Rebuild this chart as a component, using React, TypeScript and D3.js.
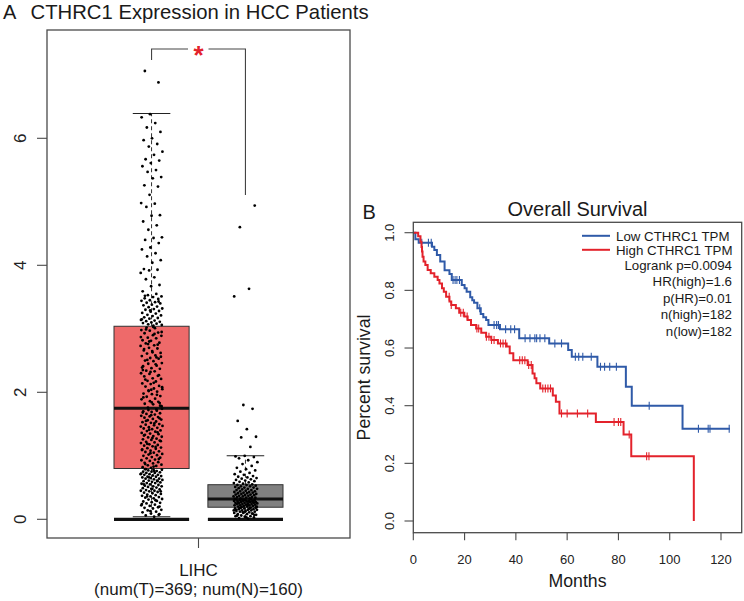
import React from "react";
import * as d3 from "d3";

// ---------- Panel A data ----------
const groups = ["Tumor", "Normal"];
const boxFills = ["#EE6A6A", "#808080"];
const boxQ1 = [0.8, 0.19];
const boxMedian = [1.75, 0.32];
const boxQ3 = [3.04, 0.545];
const whiskerLow = [0.04, 0.01];
const whiskerHigh = [6.39, 1.0];
const yTicksA = [0, 2, 4, 6];

const tumorExpr = [
  0.04, 0.06, 0.08, 0.09, 0.11, 0.12, 0.14, 0.15, 0.17, 0.18, 0.19, 0.21, 0.22, 0.23, 0.25, 0.26, 0.27, 0.28, 0.29, 0.31,
  0.32, 0.33, 0.34, 0.35, 0.36, 0.37, 0.38, 0.39, 0.4, 0.41, 0.42, 0.43, 0.44, 0.45, 0.45, 0.46, 0.47, 0.48, 0.49, 0.5,
  0.51, 0.52, 0.52, 0.53, 0.54, 0.55, 0.56, 0.57, 0.57, 0.58, 0.59, 0.6, 0.61, 0.61, 0.62, 0.63, 0.64, 0.64, 0.65, 0.66,
  0.67, 0.67, 0.68, 0.69, 0.7, 0.7, 0.71, 0.72, 0.73, 0.73, 0.74, 0.75, 0.75, 0.76, 0.77, 0.78, 0.78, 0.79, 0.07, 0.13,
  0.24, 0.3, 0.36, 0.44, 0.48, 0.55, 0.6, 0.66, 0.71, 0.76, 0.79, 0.2,
  0.81, 0.82, 0.84, 0.85, 0.86, 0.88, 0.89, 0.9, 0.92, 0.93, 0.94, 0.96, 0.97, 0.98, 1.0, 1.01, 1.02, 1.03, 1.05, 1.06,
  1.07, 1.08, 1.1, 1.11, 1.12, 1.13, 1.15, 1.16, 1.17, 1.18, 1.2, 1.21, 1.22, 1.24, 1.25, 1.26, 1.27, 1.29, 1.3, 1.31,
  1.33, 1.34, 1.35, 1.36, 1.38, 1.39, 1.4, 1.42, 1.43, 1.44, 1.45, 1.47, 1.48, 1.49, 1.5, 1.52, 1.53, 1.54, 1.56, 1.57,
  1.58, 1.6, 1.61, 1.62, 1.63, 1.65, 1.66, 1.67, 1.69, 1.7, 1.71, 1.72, 1.74, 0.83, 0.87, 0.95, 1.04, 1.09, 1.14, 1.19,
  1.23, 1.28, 1.32, 1.37, 1.41, 1.46, 1.51, 1.55, 1.59, 1.64, 1.68, 1.73,
  1.76, 1.78, 1.81, 1.82, 1.85, 1.86, 1.89, 1.9, 1.93, 1.94, 1.97, 1.98, 2.01, 2.02, 2.05, 2.06, 2.09, 2.1, 2.13, 2.14,
  2.17, 2.18, 2.21, 2.22, 2.25, 2.26, 2.29, 2.3, 2.33, 2.34, 2.37, 2.38, 2.41, 2.42, 2.45, 2.46, 2.49, 2.5, 2.53, 2.54,
  2.57, 2.58, 2.61, 2.62, 2.65, 2.66, 2.69, 2.7, 2.73, 2.74, 2.77, 2.78, 2.81, 2.82, 2.85, 2.86, 2.89, 2.9, 2.93, 2.94,
  2.97, 2.98, 3.01, 3.02, 1.79, 1.84, 1.92, 1.96, 2.03, 2.08, 2.15, 2.2, 2.27, 2.32, 2.39, 2.44, 2.51, 2.56, 2.63, 2.68,
  2.75, 2.8, 2.87, 2.92, 2.99, 1.83, 2.04, 2.35, 2.55, 2.76, 2.95, 3.03,
  7.06, 6.88, 6.38, 6.33, 6.24, 6.17, 6.1, 6.0, 5.97, 5.91, 5.87, 5.79, 5.74, 5.67, 5.65, 5.61, 5.56, 5.5, 5.47, 5.39,
  5.37, 5.26, 5.24, 5.11, 4.98, 4.97, 4.92, 4.79, 4.78, 4.69, 4.63, 4.56, 4.44, 4.43, 4.4, 4.35, 4.28, 4.25, 4.19, 4.14,
  4.08, 4.04, 3.94, 3.93, 3.92, 3.88, 3.81, 3.78, 3.69, 3.67, 3.59, 3.55,
  3.53, 3.51, 3.5, 3.48, 3.47, 3.45, 3.44, 3.42, 3.41, 3.4, 3.38, 3.37, 3.35, 3.34, 3.32, 3.31, 3.3, 3.28, 3.27, 3.25,
  3.24, 3.22, 3.21, 3.2, 3.18, 3.17, 3.16, 3.14, 3.13, 3.12, 3.11, 3.1, 3.09, 3.08, 3.07, 3.06, 3.05, 3.52, 3.43, 3.29, 3.15,
];

const normalExpr = [
  0.01, 0.02, 0.03, 0.04, 0.05, 0.05, 0.06, 0.07, 0.08, 0.08, 0.09, 0.1, 0.1, 0.11, 0.12, 0.12, 0.13, 0.13, 0.14, 0.14,
  0.15, 0.15, 0.16, 0.16, 0.17, 0.17, 0.18, 0.18, 0.18, 0.03, 0.06, 0.09, 0.11, 0.14, 0.16, 0.17, 0.07, 0.12, 0.15, 0.18,
  0.19, 0.19, 0.2, 0.2, 0.21, 0.21, 0.22, 0.22, 0.22, 0.23, 0.23, 0.24, 0.24, 0.24, 0.25, 0.25, 0.25, 0.26, 0.26, 0.26,
  0.27, 0.27, 0.27, 0.28, 0.28, 0.28, 0.29, 0.29, 0.29, 0.3, 0.3, 0.3, 0.31, 0.31, 0.31, 0.2, 0.23, 0.26, 0.28, 0.31,
  0.32, 0.33, 0.33, 0.34, 0.34, 0.35, 0.35, 0.36, 0.36, 0.37, 0.37, 0.38, 0.38, 0.39, 0.39, 0.4, 0.4, 0.41, 0.41, 0.42,
  0.42, 0.43, 0.43, 0.44, 0.44, 0.45, 0.46, 0.46, 0.47, 0.48, 0.48, 0.49, 0.5, 0.5, 0.51, 0.52, 0.52, 0.53, 0.54, 0.54,
  0.55, 0.56, 0.57, 0.58, 0.59, 0.6, 0.61, 0.62, 0.63, 0.64, 0.65, 0.66, 0.67, 0.68, 0.7, 0.71, 0.73, 0.75, 0.77, 0.79,
  0.81, 0.84, 0.87, 0.9, 0.93, 0.96, 0.98, 1.0, 0.99,
  1.14, 1.29, 1.3, 1.42, 1.55, 1.74, 1.8, 3.51, 3.63, 4.6, 4.94,
];

// ---------- Panel B data ----------
const lowTimes = [0, 0.8, 2.1, 7.3, 8.2, 9.2, 10.5, 12.2, 14.1, 15.0, 18.9, 20.0, 20.8, 22.2, 23.0, 23.7, 25.0, 26.3, 27.3, 28.4, 29.3, 33.8, 41.3, 53.0, 60.4, 61.8, 71.8, 82.9, 85.2, 105.0, 123.5];
const lowSurv = [1.0, 0.977, 0.965, 0.951, 0.94, 0.923, 0.9, 0.87, 0.857, 0.836, 0.819, 0.807, 0.795, 0.776, 0.766, 0.757, 0.738, 0.718, 0.707, 0.697, 0.68, 0.665, 0.634, 0.616, 0.593, 0.57, 0.535, 0.466, 0.4, 0.32, 0.32];
const lowCensor = [3.3, 5.9, 7.0, 15.5, 16.3, 17.0, 18.0, 25.9, 31.5, 32.5, 33.2, 36.0, 38.0, 39.5, 43.6, 45.5, 47.4, 48.1, 49.4, 51.3, 55.2, 57.8, 63.2, 64.5, 66.1, 69.4, 73.0, 74.6, 76.6, 79.2, 92.0, 111.2, 115.0, 115.7, 123.2];

const highTimes = [0, 1.9, 2.8, 3.2, 3.4, 3.6, 4.0, 4.7, 5.6, 6.8, 8.2, 9.5, 10.2, 11.2, 11.9, 12.8, 14.1, 14.8, 16.6, 17.9, 19.9, 21.2, 22.5, 24.5, 26.5, 28.4, 30.4, 33.0, 36.4, 37.6, 39.0, 44.6, 46.5, 47.3, 48.0, 49.5, 54.4, 55.6, 57.0, 71.2, 82.0, 85.0, 109.4];
const highSurv = [1.0, 0.988, 0.969, 0.95, 0.935, 0.917, 0.9, 0.888, 0.871, 0.859, 0.847, 0.836, 0.824, 0.807, 0.795, 0.778, 0.761, 0.749, 0.738, 0.722, 0.709, 0.697, 0.68, 0.668, 0.653, 0.639, 0.628, 0.616, 0.605, 0.582, 0.558, 0.541, 0.512, 0.495, 0.478, 0.46, 0.435, 0.414, 0.373, 0.343, 0.3, 0.225, 0.0];
const highCensor = [14.0, 14.8, 18.5, 19.5, 21.0, 24.8, 25.5, 28.5, 29.5, 30.5, 31.5, 34.0, 35.0, 36.0, 41.5, 42.5, 43.5, 45.0, 46.0, 50.5, 51.5, 52.5, 53.5, 57.8, 60.0, 64.0, 68.0, 78.3, 80.0, 80.9, 84.2, 91.0, 91.9];

const xTicksB = [0, 20, 40, 60, 80, 100, 120];
const yTicksB = [0, 0.2, 0.4, 0.6, 0.8, 1.0];
const legendLabels = ["Low CTHRC1 TPM", "High CTHRC1 TPM"];
const statLines = ["Logrank p=0.0094", "HR(high)=1.6", "p(HR)=0.01", "n(high)=182", "n(low)=182"];

const FONT = "'Liberation Sans', Arial, Helvetica, sans-serif";
const BLUE = "#2F5AA8";
const RED = "#E3222B";
const AXIS = "#4a4a4a";
const TXT = "#1a1a1a";

function stepAt(times: number[], surv: number[], t: number) {
  let s = surv[0];
  for (let i = 0; i < times.length; i++) {
    if (times[i] <= t) s = surv[i];
  }
  return s;
}

export default function App() {
  // Panel A scales
  const yA = d3.scaleLinear().domain([0, 6]).range([519.3, 138.3]);
  const xA = d3.scaleBand<string>().domain(groups).range([114, 283]).paddingInner(0.2);
  const bw = xA.bandwidth();
  const frameA = { x0: 47, x1: 350, y0: 30, y1: 538 };
  const centers = groups.map((g) => (xA(g) as number) + bw / 2);
  const datasets = [tumorExpr, normalExpr];
  const spreads = [11, 12];

  // Panel B scales
  const xB = d3.scaleLinear().domain([0, 120]).range([413.3, 721]);
  const yB = d3.scaleLinear().domain([0, 1]).range([521, 232.7]);
  const frameB = { x0: 413.3, x1: 741.7, y0: 222.3, y1: 532.7 };
  const line = d3
    .line<[number, number]>()
    .x((d) => xB(d[0]))
    .y((d) => yB(d[1]))
    .curve(d3.curveStepAfter);
  const lowPts = lowTimes.map((t, i) => [t, lowSurv[i]] as [number, number]);
  const highPts = highTimes.map((t, i) => [t, highSurv[i]] as [number, number]);

  const bracketY = 49;

  return (
    <svg
      width={744}
      height={601}
      style={{ position: "absolute", left: 0, top: 0, background: "#fff" }}
      fontFamily={FONT}
    >
      <rect x={0} y={0} width={744} height={601} fill="#fff" />
      {/* ---------- Panel A ---------- */}
      <text x={3} y={19} fontSize={20} fill={TXT}>A</text>
      <text x={30.5} y={19} fontSize={20.3} fill={TXT}>CTHRC1 Expression in HCC Patients</text>

      {/* boxes */}
      {groups.map((g, i) => {
        const x = xA(g) as number;
        const cx = centers[i];
        return (
          <g key={g}>
            <line x1={cx} x2={cx} y1={yA(boxQ3[i])} y2={yA(whiskerHigh[i])} stroke="#333" strokeWidth={1} strokeDasharray="4,3" />
            <line x1={cx} x2={cx} y1={yA(boxQ1[i])} y2={yA(whiskerLow[i])} stroke="#333" strokeWidth={1} strokeDasharray="4,3" />
            <line x1={cx - bw / 4} x2={cx + bw / 4} y1={yA(whiskerHigh[i])} y2={yA(whiskerHigh[i])} stroke="#222" strokeWidth={1.1} />
            <line x1={cx - bw / 4} x2={cx + bw / 4} y1={yA(whiskerLow[i])} y2={yA(whiskerLow[i])} stroke="#222" strokeWidth={1} />
            <rect x={x} y={yA(boxQ3[i])} width={bw} height={yA(boxQ1[i]) - yA(boxQ3[i])} fill={boxFills[i]} stroke="#333" strokeWidth={1} />
            <line x1={x} x2={x + bw} y1={yA(boxMedian[i])} y2={yA(boxMedian[i])} stroke="#111" strokeWidth={3} />
            <line x1={x} x2={x + bw} y1={yA(0)} y2={yA(0)} stroke="#111" strokeWidth={3.3} />
          </g>
        );
      })}

      {/* jittered points */}
      {datasets.map((arr, gi) =>
        arr.map((v, i) => {
          const j = (((i + 1) * 0.6180339887) % 1) - 0.5;
          return <circle key={gi + "-" + i} cx={centers[gi] + j * 2 * spreads[gi]} cy={yA(v)} r={1.4} fill="#000" />;
        })
      )}

      {/* significance bracket */}
      <path
        d={`M${centers[0]},${bracketY + 11} V${bracketY} H${188}`}
        fill="none"
        stroke="#444"
        strokeWidth={1.1}
      />
      <path
        d={`M${208.5},${bracketY} H${centers[1]} V${195}`}
        fill="none"
        stroke="#444"
        strokeWidth={1.1}
      />
      <text x={(centers[0] + centers[1]) / 2} y={63.5} fontSize={26} fontWeight="bold" fill="#E3222B" textAnchor="middle">*</text>

      {/* frame A */}
      <rect x={frameA.x0} y={frameA.y0} width={frameA.x1 - frameA.x0} height={frameA.y1 - frameA.y0} fill="none" stroke={AXIS} strokeWidth={1.3} />
      {yTicksA.map((t) => (
        <g key={t}>
          <line x1={37} x2={frameA.x0} y1={yA(t)} y2={yA(t)} stroke={AXIS} strokeWidth={1.1} />
          <text transform={`translate(25.5,${yA(t)}) rotate(-90)`} fontSize={17} textAnchor="middle" fill="#222">{t}</text>
        </g>
      ))}
      <line x1={(centers[0] + centers[1]) / 2} x2={(centers[0] + centers[1]) / 2} y1={frameA.y1} y2={frameA.y1 + 10} stroke={AXIS} strokeWidth={1.1} />
      <text x={(centers[0] + centers[1]) / 2} y={576} fontSize={17} textAnchor="middle" fill={TXT}>LIHC</text>
      <text x={(centers[0] + centers[1]) / 2} y={595} fontSize={17} textAnchor="middle" fill={TXT}>(num(T)=369; num(N)=160)</text>

      {/* ---------- Panel B ---------- */}
      <text x={362.5} y={218.5} fontSize={20} fill={TXT}>B</text>
      <text x={(frameB.x0 + frameB.x1) / 2} y={215.5} fontSize={20} textAnchor="middle" fill={TXT}>Overall Survival</text>

      <path d={line(lowPts) as string} fill="none" stroke={BLUE} strokeWidth={2} />
      {lowCensor.map((t, i) => {
        const y = yB(stepAt(lowTimes, lowSurv, t));
        return <line key={"lc" + i} x1={xB(t)} x2={xB(t)} y1={y - 4} y2={y + 4} stroke={BLUE} strokeWidth={1.1} />;
      })}
      <path d={line(highPts) as string} fill="none" stroke={RED} strokeWidth={2} />
      {highCensor.map((t, i) => {
        const y = yB(stepAt(highTimes, highSurv, t));
        return <line key={"hc" + i} x1={xB(t)} x2={xB(t)} y1={y - 4} y2={y + 4} stroke={RED} strokeWidth={1.1} />;
      })}

      <rect x={frameB.x0} y={frameB.y0} width={frameB.x1 - frameB.x0} height={frameB.y1 - frameB.y0} fill="none" stroke={AXIS} strokeWidth={1.3} />
      {yTicksB.map((t) => (
        <g key={t}>
          <line x1={404.5} x2={frameB.x0} y1={yB(t)} y2={yB(t)} stroke={AXIS} strokeWidth={1.1} />
          <text transform={`translate(393.5,${yB(t)}) rotate(-90)`} fontSize={13} textAnchor="middle" fill="#222">{t.toFixed(1)}</text>
        </g>
      ))}
      {xTicksB.map((t) => (
        <g key={t}>
          <line x1={xB(t)} x2={xB(t)} y1={frameB.y1} y2={frameB.y1 + 7.5} stroke={AXIS} strokeWidth={1.1} />
          <text x={xB(t)} y={563.5} fontSize={13} textAnchor="middle" fill="#222">{t}</text>
        </g>
      ))}
      <text x={(frameB.x0 + frameB.x1) / 2} y={586.5} fontSize={17.7} textAnchor="middle" fill={TXT}>Months</text>
      <text transform={`translate(370,${(frameB.y0 + frameB.y1) / 2}) rotate(-90)`} fontSize={17.7} textAnchor="middle" fill={TXT}>Percent survival</text>

      {/* legend */}
      {legendLabels.map((l, i) => {
        const by = 240.5 + i * 14;
        return (
          <g key={l}>
            <line x1={582} x2={610} y1={by - 4.7} y2={by - 4.7} stroke={i === 0 ? BLUE : RED} strokeWidth={2} />
            <text x={616} y={by} fontSize={13.3} fill={TXT}>{l}</text>
          </g>
        );
      })}
      {statLines.map((s, i) => (
        <text key={s} x={732} y={270 + i * 16.4} fontSize={13.3} textAnchor="end" fill={TXT}>{s}</text>
      ))}
    </svg>
  );
}
